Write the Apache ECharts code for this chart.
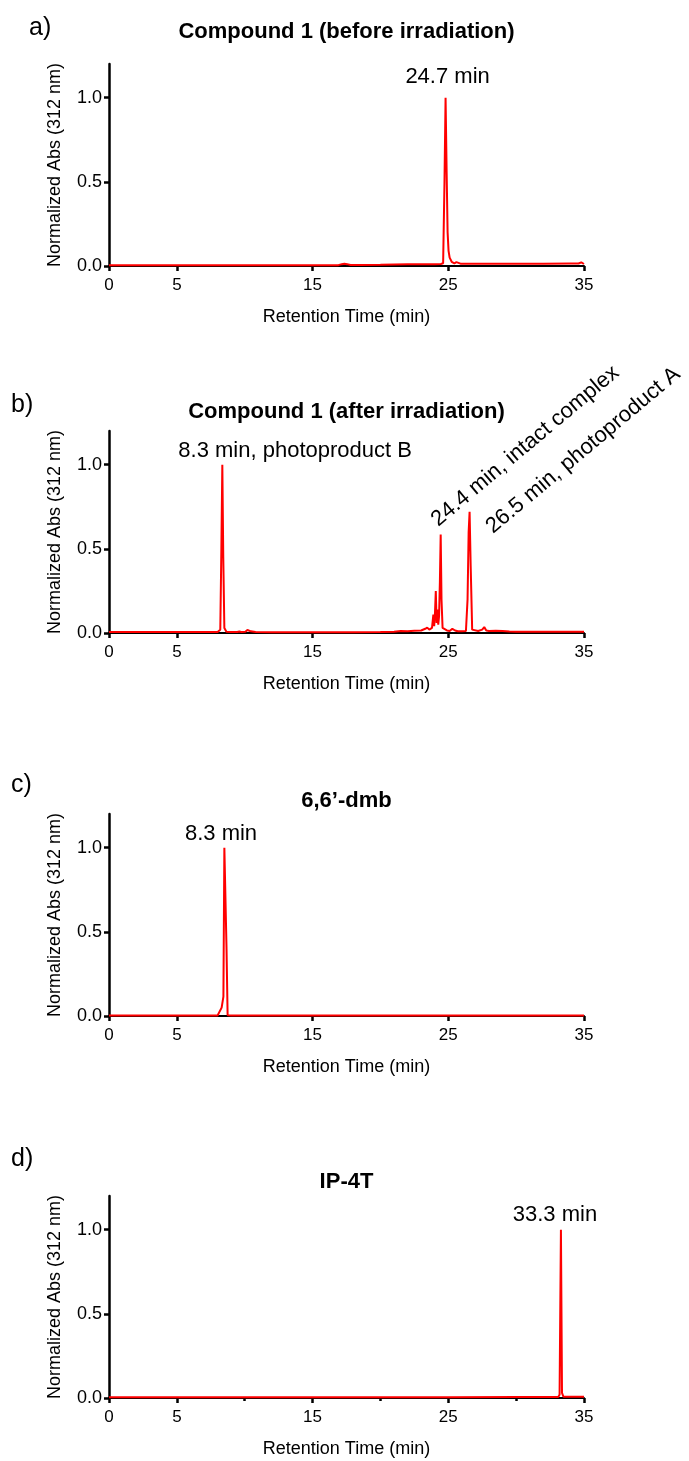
<!DOCTYPE html>
<html><head><meta charset="utf-8">
<script src="https://cdn.jsdelivr.net/npm/echarts@6/dist/echarts.min.js"></script>
<style>html,body{margin:0;padding:0;background:#fff}#c{width:689px;height:1461px}</style>
</head><body><div id="c"></div>
<script>
// ---- data ----
const xTickLabels = [0, 5, 15, 25, 35];
const xMinorTicksD = [10, 20, 30];
const yTickLabels = [0, 0.5, 1.0];
const panelLetters = ['a)', 'b)', 'c)', 'd)'];
const panelTitles = ['Compound 1 (before irradiation)', 'Compound 1 (after irradiation)', '6,6\u2019-dmb', 'IP-4T'];
const xAxisTitle = 'Retention Time (min)';
const yAxisTitle = 'Normalized Abs (312 nm)';

const timeA = [0, 3, 6, 9, 12, 15, 16.9, 17.15, 17.35, 17.55, 17.8, 18.5, 20, 21, 22, 23, 24, 24.45, 24.62, 24.72, 24.8, 24.88, 24.95, 25.02, 25.1, 25.25, 25.45, 25.6, 25.72, 25.9, 26.5, 28, 30, 32, 34, 34.6, 34.8, 34.92, 35];
const absA  = [0.004, 0.004, 0.004, 0.004, 0.004, 0.005, 0.005, 0.011, 0.014, 0.011, 0.006, 0.006, 0.007, 0.009, 0.01, 0.01, 0.011, 0.012, 0.016, 0.5, 1.0, 0.55, 0.2, 0.09, 0.05, 0.025, 0.016, 0.023, 0.017, 0.014, 0.013, 0.013, 0.014, 0.014, 0.015, 0.015, 0.022, 0.018, 0.012];

const timeB = [0, 3, 6, 8.0, 8.2, 8.28, 8.35, 8.42, 8.5, 8.65, 9.0, 9.45, 9.6, 9.75, 10.05, 10.2, 10.32, 10.45, 10.8, 12, 15, 18, 20, 21, 21.5, 22, 22.5, 23, 23.3, 23.45, 23.6, 23.8, 23.9, 23.96, 24.02, 24.08, 24.14, 24.2, 24.26, 24.32, 24.38, 24.44, 24.5, 24.58, 24.7, 24.9, 25.1, 25.3, 25.4, 25.5, 25.7, 26.0, 26.3, 26.42, 26.5, 26.57, 26.65, 26.76, 26.9, 27.2, 27.5, 27.65, 27.8, 28, 28.5, 29, 29.5, 30, 32, 34, 35];
const absB  = [0.006, 0.006, 0.006, 0.006, 0.02, 0.5, 1.0, 0.45, 0.03, 0.008, 0.006, 0.006, 0.009, 0.006, 0.007, 0.018, 0.022, 0.01, 0.006, 0.005, 0.005, 0.005, 0.006, 0.008, 0.012, 0.01, 0.014, 0.015, 0.025, 0.032, 0.02, 0.03, 0.11, 0.04, 0.12, 0.25, 0.06, 0.14, 0.05, 0.1, 0.3, 0.585, 0.2, 0.03, 0.02, 0.015, 0.012, 0.025, 0.03, 0.015, 0.01, 0.01, 0.012, 0.2, 0.6, 0.72, 0.4, 0.02, 0.012, 0.012, 0.02, 0.035, 0.015, 0.012, 0.014, 0.012, 0.009, 0.008, 0.008, 0.007, 0.007];

const timeC = [0, 4, 8, 8.13, 8.3, 8.43, 8.5, 8.58, 8.66, 8.74, 9, 12, 16, 20, 24, 28, 32, 35];
const absC  = [0.003, 0.003, 0.003, 0.004, 0.05, 0.115, 1.0, 0.99, 0.4, 0.004, 0.003, 0.003, 0.003, 0.003, 0.003, 0.003, 0.003, 0.003];

const timeD = [0, 5, 10, 15, 20, 25, 30, 33.1, 33.2, 33.3, 33.38, 33.48, 33.6, 34, 35];
const absD  = [0.004, 0.004, 0.004, 0.004, 0.004, 0.005, 0.006, 0.006, 0.02, 1.0, 0.03, 0.008, 0.007, 0.007, 0.007];

// peak annotations: [time, abs] of the peak and its text
const peakLabelsA = [{t: 24.8, a: 1.0, text: '24.7 min'}];
const peakLabelsB = [{t: 8.35, a: 1.0, text: '8.3 min, photoproduct B'}];
const rotLabelsB  = [{t: 23.98, a: 0.657, text: '24.4 min, intact complex'}, {t: 28.0, a: 0.615, text: '26.5 min, photoproduct A'}];
const peakLabelsC = [{t: 8.55, a: 1.0, text: '8.3 min'}];
const peakLabelsD = [{t: 33.3, a: 1.0, text: '33.3 min'}];

// ---- layout ----
const FONT = "'Liberation Sans', Arial, Helvetica, sans-serif";
const gridTops = [64, 431, 814, 1196];
const gridH = 202, gridLeft = 109, gridW = 475;
const letterX = [29, 11, 11, 11], letterY = [28, 405, 785, 1159];
const titleY = [32, 412, 801, 1182];
const peakLabelStyle = [
  {offset: [2, 0], distance: 10, align: 'center'},
  {offset: [-44, 0], distance: 3, align: 'left'},
  {offset: [-4, 0], distance: 3, align: 'center'},
  {offset: [-6, 0], distance: 4, align: 'center'}
];

function zip(t, a) { const n = Math.min(t.length, a.length); const o = []; for (let i = 0; i < n; i++) o.push([t[i], a[i]]); return o; }
const seriesData = [zip(timeA, absA), zip(timeB, absB), zip(timeC, absC), zip(timeD, absD)];
const peakLabels = [peakLabelsA, peakLabelsB, peakLabelsC, peakLabelsD];

const grids = [], xAxes = [], yAxes = [], series = [], graphics = [];
for (let i = 0; i < 4; i++) {
  grids.push({left: gridLeft, top: gridTops[i], width: gridW, height: gridH, containLabel: false});
  xAxes.push({
    gridIndex: i, type: 'value', min: 0, max: 35,
    name: xAxisTitle, nameLocation: 'middle', nameGap: 42,
    nameTextStyle: {fontSize: 18, color: '#000', fontFamily: FONT},
    axisLine: {show: true, onZero: false, lineStyle: {color: '#000', width: 2}},
    axisTick: {show: true, length: 5, customValues: xTickLabels, lineStyle: {color: '#000', width: 2.5}},
    axisLabel: {customValues: xTickLabels, fontSize: 17, color: '#000', margin: 11, fontFamily: FONT},
    splitLine: {show: false}
  });
  yAxes.push({
    gridIndex: i, type: 'value', min: 0, max: 1.2,
    name: yAxisTitle, nameLocation: 'middle', nameGap: 45, nameRotate: 90,
    nameTextStyle: {fontSize: 18, color: '#000', fontFamily: FONT},
    axisLine: {show: true, lineStyle: {color: '#000', width: 2.5}},
    axisTick: {show: true, length: 5, customValues: yTickLabels, lineStyle: {color: '#000', width: 2.5}},
    axisLabel: {customValues: yTickLabels, formatter: v => Number(v).toFixed(1), fontSize: 18, color: '#000', margin: 7, fontFamily: FONT},
    splitLine: {show: false}
  });
  const st = peakLabelStyle[i];
  const mpData = peakLabels[i].map(p => ({
    coord: [p.t, p.a],
    label: {show: true, formatter: p.text, position: 'top', distance: st.distance, offset: st.offset, align: st.align,
      fontSize: 22, color: '#000', fontFamily: FONT}
  }));
  if (i === 1) {
    rotLabelsB.forEach(p => mpData.push({
      coord: [p.t, p.a],
      label: {show: true, formatter: p.text, position: 'inside', align: 'left', verticalAlign: 'middle', rotate: 40,
        fontSize: 22, color: '#000', fontFamily: FONT}
    }));
  }
  series.push({
    type: 'line', xAxisIndex: i, yAxisIndex: i, data: seriesData[i],
    showSymbol: false, symbol: 'none', animation: false, z: 3,
    lineStyle: {color: '#ff0000', width: 2}, itemStyle: {color: '#ff0000'},
    markPoint: {symbol: 'circle', symbolSize: 0, silent: true, animation: false, data: mpData}
  });
  graphics.push({type: 'text', x: letterX[i], y: letterY[i],
    style: {text: panelLetters[i], font: '25px ' + FONT, fill: '#000', textAlign: 'left', textVerticalAlign: 'middle'}});
  graphics.push({type: 'text', x: gridLeft + gridW / 2, y: titleY[i],
    style: {text: panelTitles[i], font: 'bold 22px ' + FONT, fill: '#000', textAlign: 'center', textVerticalAlign: 'middle'}});
}
// minor ticks on panel d
xAxes.push({
  gridIndex: 3, type: 'value', min: 0, max: 35, position: 'bottom',
  axisLine: {show: false}, axisLabel: {show: false}, splitLine: {show: false},
  axisTick: {show: true, length: 3, customValues: xMinorTicksD, lineStyle: {color: '#000', width: 2.5}}
});

const chart = echarts.init(document.getElementById('c'), null, {renderer: 'canvas'});
chart.setOption({
  backgroundColor: '#fff',
  animation: false,
  textStyle: {fontFamily: FONT},
  grid: grids, xAxis: xAxes, yAxis: yAxes, series: series, graphic: graphics
});
</script></body></html>
